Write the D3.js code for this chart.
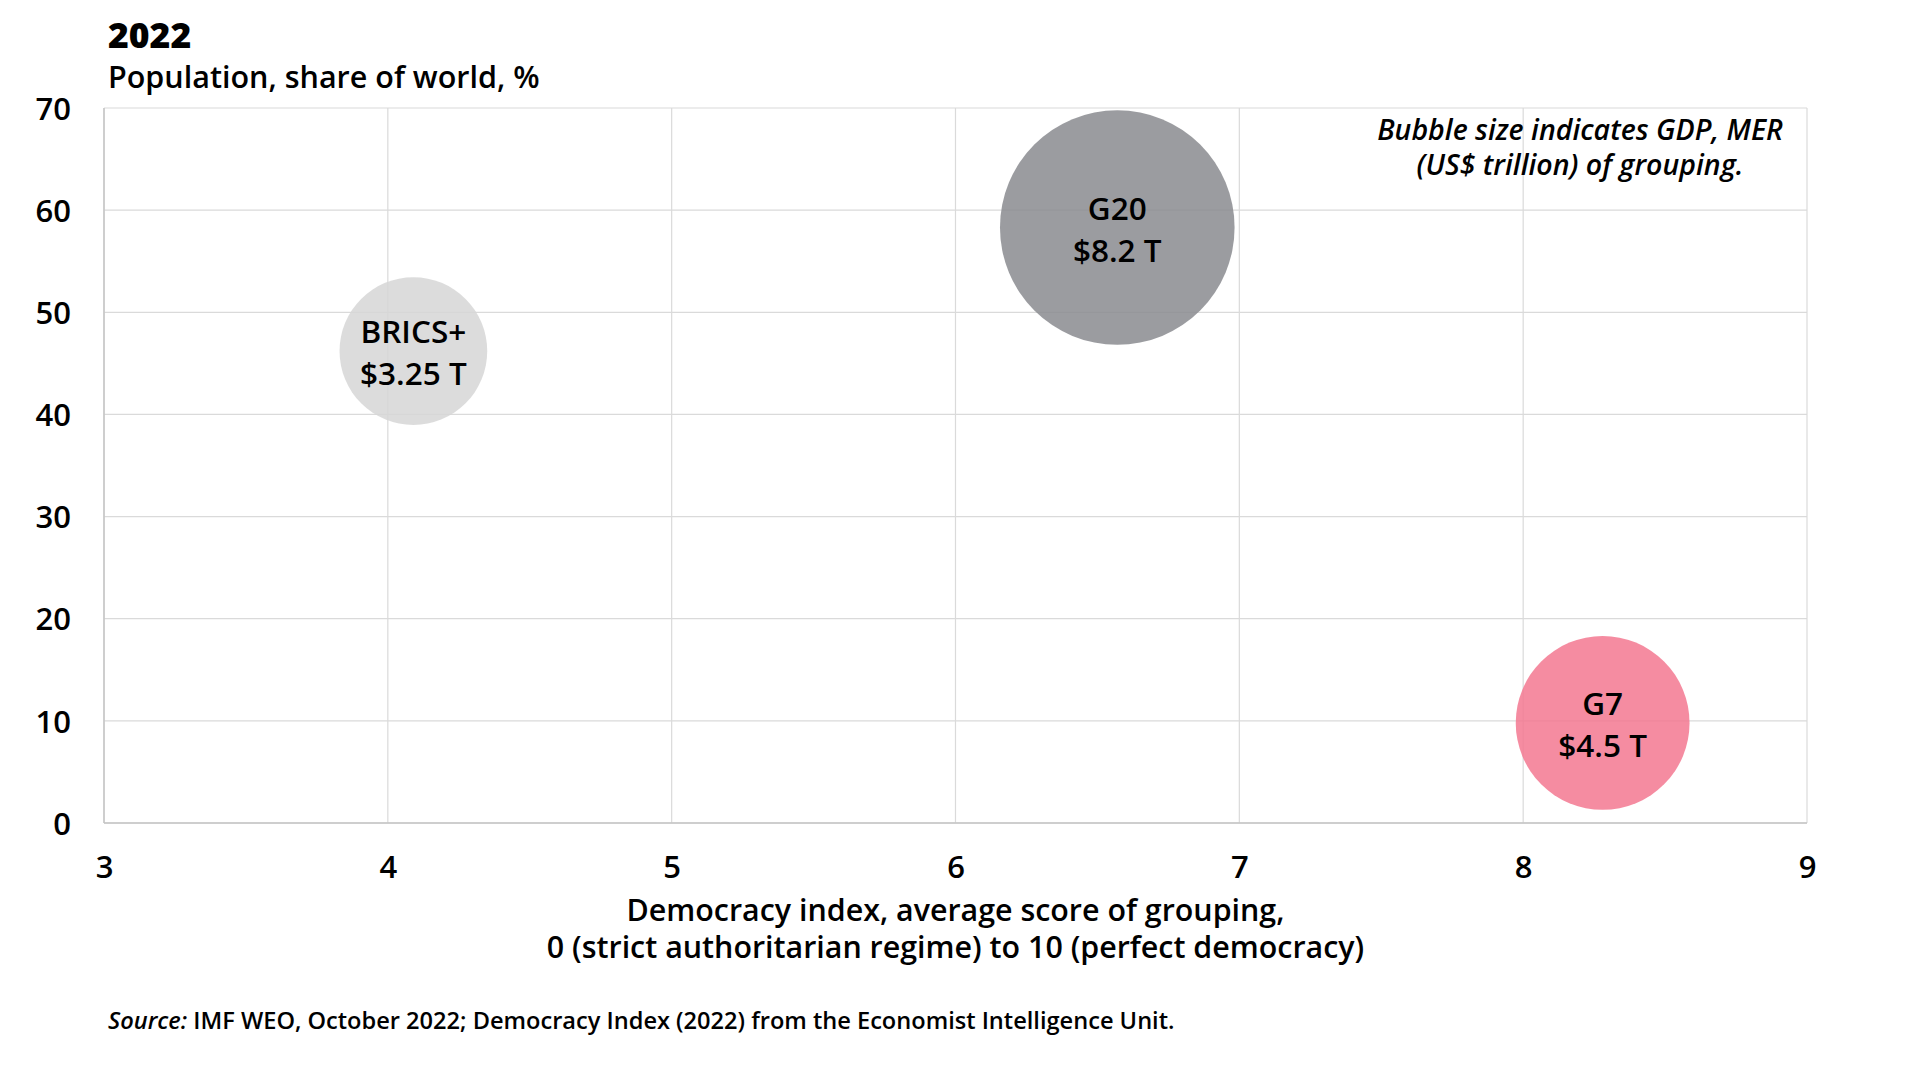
<!DOCTYPE html>
<html>
<head>
<meta charset="utf-8">
<script src="https://cdn.jsdelivr.net/npm/d3@7"></script>
<style>
  html, body { margin: 0; padding: 0; background: #fff; }
  svg { display: block; font-family: "Open Sans", Lato, sans-serif; }
</style>
</head>
<body>
<svg id="chart" width="1920" height="1080"></svg>
<script>
// ---- data ----
const groups = ["BRICS+", "G20", "G7"];
const democracyIndex = [4.09, 6.57, 8.28];
const populationShare = [46.2, 58.3, 9.8];
const gdpTrillion = [3.25, 8.2, 4.5];
const gdpLabels = ["$3.25 T", "$8.2 T", "$4.5 T"];
const bubbleColors = ["#d6d6d6", "#8a8b8f", "#f37890"];
const xTicks = [3, 4, 5, 6, 7, 8, 9];
const yTicks = [0, 10, 20, 30, 40, 50, 60, 70];

const title = "2022";
const yTitle = "Population, share of world, %";
const xTitleLines = ["Democracy index, average score of grouping,",
                     "0 (strict authoritarian regime) to 10 (perfect democracy)"];
const noteLines = ["Bubble size indicates GDP, MER", "(US$ trillion) of grouping."];
const sourceItalic = "Source:";
const sourceText = " IMF WEO, October 2022; Democracy Index (2022) from the Economist Intelligence Unit.";

// ---- layout ----
const FONT = "'Open Sans', Lato, sans-serif";
const W = 600; // medium-ish weight
const svg = d3.select("#chart");
const m = { left: 104, right: 1807, top: 108, bottom: 823 };

const x = d3.scaleLinear().domain([3, 9]).range([m.left, m.right]);
const y = d3.scaleLinear().domain([0, 70]).range([m.bottom, m.top]);
const r = d3.scaleSqrt().domain([0, 8.2]).range([0, 117.3]);

// gridlines
const grid = svg.append("g");
grid.selectAll("line.v").data(xTicks).join("line")
  .attr("x1", d => x(d)).attr("x2", d => x(d))
  .attr("y1", m.top).attr("y2", m.bottom)
  .attr("stroke", "#dadada").attr("stroke-width", 1.2);
grid.selectAll("line.h").data(yTicks).join("line")
  .attr("x1", m.left).attr("x2", m.right)
  .attr("y1", d => y(d)).attr("y2", d => y(d))
  .attr("stroke", "#dadada").attr("stroke-width", 1.2);
// axis lines (left & bottom)
svg.append("line").attr("x1", m.left).attr("x2", m.left).attr("y1", m.top).attr("y2", m.bottom)
  .attr("stroke", "#c4c4c4").attr("stroke-width", 1.5);
svg.append("line").attr("x1", m.left).attr("x2", m.right).attr("y1", m.bottom).attr("y2", m.bottom)
  .attr("stroke", "#c4c4c4").attr("stroke-width", 1.5);

// axes labels via d3 axes
const xAxis = svg.append("g").attr("transform", `translate(0,${m.bottom})`)
  .call(d3.axisBottom(x).tickValues(xTicks).tickSize(0).tickPadding(0).tickFormat(d3.format("d")));
xAxis.select(".domain").remove();
xAxis.selectAll("text").attr("y", 55).attr("dy", null)
  .attr("font-size", 31).attr("fill", "#000").attr("font-family", FONT).attr("font-weight", W);

const yAxis = svg.append("g").attr("transform", `translate(${m.left},0)`)
  .call(d3.axisLeft(y).tickValues(yTicks).tickSize(0).tickPadding(0).tickFormat(d3.format("d")));
yAxis.select(".domain").remove();
yAxis.selectAll("text").attr("x", -33).attr("dy", "0.36em")
  .attr("font-size", 31).attr("fill", "#000").attr("font-family", FONT).attr("font-weight", W);

// bubbles
const data = groups.map((g, i) => ({
  name: g, x: democracyIndex[i], y: populationShare[i], gdp: gdpTrillion[i],
  label: gdpLabels[i], color: bubbleColors[i]
}));
const bub = svg.append("g").selectAll("g").data(data).join("g")
  .attr("transform", d => `translate(${x(d.x)},${y(d.y)})`);
bub.append("circle").attr("r", d => r(d.gdp))
  .attr("fill", d => d.color).attr("fill-opacity", 0.85);
bub.append("text").attr("text-anchor", "middle").attr("y", -8)
  .attr("font-size", 31.5).attr("font-weight", W).attr("fill", "#000").text(d => d.name);
bub.append("text").attr("text-anchor", "middle").attr("y", 34)
  .attr("font-size", 31.5).attr("font-weight", W).attr("fill", "#000").text(d => d.label);

// titles
svg.append("text").attr("x", 108).attr("y", 48).attr("font-size", 35.5).attr("font-weight", 800)
  .attr("fill", "#000").text(title);
svg.append("text").attr("x", 108).attr("y", 88).attr("font-size", 30.5).attr("font-weight", W)
  .attr("fill", "#000").text(yTitle);

// x axis title
svg.append("g").selectAll("text").data(xTitleLines).join("text")
  .attr("x", (m.left + m.right) / 2).attr("y", (d, i) => 921 + i * 37)
  .attr("text-anchor", "middle").attr("font-size", 30.4).attr("font-weight", W).attr("fill", "#000")
  .text(d => d);

// note
svg.append("g").selectAll("text").data(noteLines).join("text")
  .attr("x", 1580).attr("y", (d, i) => 140 + i * 35)
  .attr("text-anchor", "middle").attr("font-size", 28.5).attr("font-style", "italic").attr("font-weight", W)
  .attr("fill", "#000").text(d => d);

// source
const src = svg.append("text").attr("x", 108).attr("y", 1029).attr("font-size", 23.6).attr("font-weight", W).attr("fill", "#000");
src.append("tspan").attr("font-style", "italic").text(sourceItalic);
src.append("tspan").text(sourceText);
</script>
</body>
</html>
